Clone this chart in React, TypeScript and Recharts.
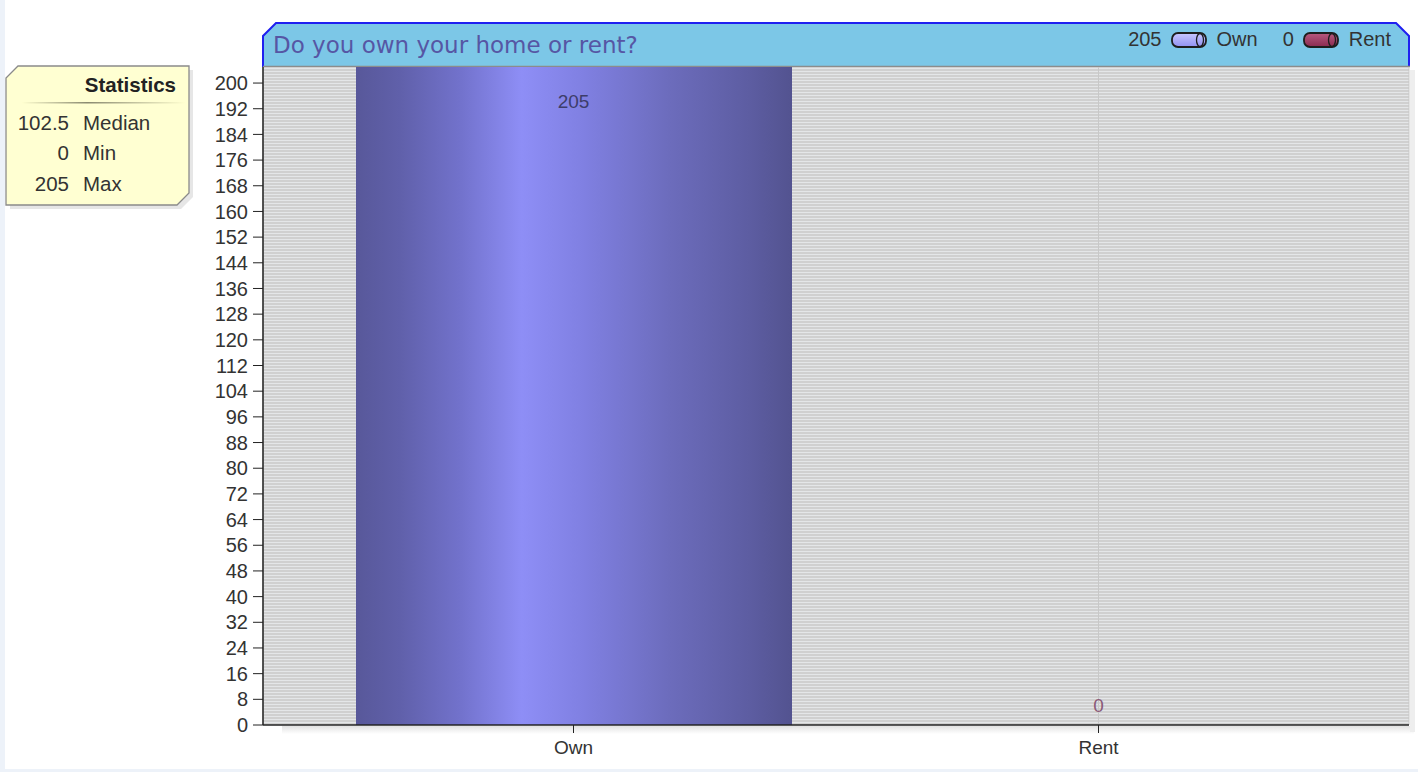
import { BarChart, Bar, XAxis, YAxis, CartesianGrid, Legend, Cell, ReferenceDot } from 'recharts'

// survey answers
const categories = ['Own', 'Rent']
const answerCounts = [205, 0]
const yTicks = [0, 8, 16, 24, 32, 40, 48, 56, 64, 72, 80, 88, 96, 104, 112, 120, 128, 136, 144, 152, 160, 168, 176, 184, 192, 200]
const barFills = ['url(#ownGrad)', 'url(#rentGrad)']
const legendFills = ['url(#ownPill)', 'url(#rentPill)']
const labelColors = ['#3d3d6a', '#8a5a78']

const data = categories.map((name, i) => ({ name, value: answerCounts[i] }))

const sorted = [...answerCounts].sort((a, b) => a - b)
const mid = Math.floor(sorted.length / 2)
const median = sorted.length % 2 ? sorted[mid] : (sorted[mid - 1] + sorted[mid]) / 2
const stats = [
  { label: 'Median', value: median },
  { label: 'Min', value: sorted[0] },
  { label: 'Max', value: sorted[sorted.length - 1] }
]

const FONT = '"Liberation Sans", Arial, sans-serif'

// value label sits inside the top of tall bars, just above the axis for empty ones
const makeValueLabel = (value: number, index: number) => (props: any) => {
  const vb = props.viewBox || {}
  const cx = vb.x + (vb.width || 0) / 2
  const top = vb.y + (vb.height || 0) / 2
  const cy = value > 20 ? top + 34 : top - 20
  return (
    <text
      x={cx}
      y={cy}
      textAnchor="middle"
      dominantBaseline="central"
      fill={labelColors[index]}
      fontSize={19}
      fontFamily={FONT}
    >
      {value}
    </text>
  )
}

const Pill = ({ fill }: { fill: string }) => (
  <svg width={36} height={18} style={{ display: 'block' }}>
    <rect x={1} y={2} width={34} height={14} rx={6} fill={fill} stroke="#1e1e1e" strokeWidth={1.8} />
    <ellipse cx={29} cy={9} rx={3.5} ry={6.5} fill="none" stroke="#1e1e1e" strokeWidth={1.3} />
  </svg>
)

const renderLegend = () => (
  <div
    style={{
      display: 'flex',
      alignItems: 'center',
      fontFamily: FONT,
      fontSize: 20,
      color: '#333'
    }}
  >
    {categories.map((c, i) => (
      <div key={c} style={{ display: 'flex', alignItems: 'center', marginLeft: i === 0 ? 0 : 25 }}>
        <span style={{ marginRight: 9 }}>{answerCounts[i]}</span>
        <Pill fill={legendFills[i]} />
        <span style={{ marginLeft: 10 }}>{c}</span>
      </div>
    ))}
  </div>
)

const TitleBar = () => (
  <svg width={1418} height={772} style={{ position: 'absolute', left: 0, top: 0, zIndex: 0 }}>
    <defs>
      <linearGradient id="axisShadow" x1="0" y1="0" x2="0" y2="1">
        <stop offset="0%" stopColor="#e2e2e2" />
        <stop offset="100%" stopColor="#ffffff" />
      </linearGradient>
    </defs>
    <rect x={282} y={726} width={1132} height={8} fill="url(#axisShadow)" />
    <rect x={1410} y={70} width={5} height={662} fill="#eeeeee" />
    <polygon points="263,67 263,36 276,23 1396,23 1409,36 1409,67" fill="#7cc7e7" />
    <polyline points="263,67 263,36 276,23 1396,23 1409,36 1409,67" fill="none" stroke="#2020f0" strokeWidth={2} />
    <line x1={263} y1={66.5} x2={1410} y2={66.5} stroke="#8c8c8c" strokeWidth={1.5} />
    <text x={273} y={45} dominantBaseline="central" fontSize={23} fontFamily='"DejaVu Sans", Verdana, sans-serif' fill="#5656a4">
      Do you own your home or rent?
    </text>
  </svg>
)

const StatsBox = () => (
  <svg width={200} height={220} style={{ position: 'absolute', left: 0, top: 0, zIndex: 2 }}>
    <defs>
      <linearGradient id="sepGrad" x1="0" y1="0" x2="1" y2="0">
        <stop offset="0%" stopColor="#ffffd0" />
        <stop offset="40%" stopColor="#8a8a70" />
        <stop offset="100%" stopColor="#ffffd0" />
      </linearGradient>
    </defs>
    <polygon points="20,70 193,70 193,197 181,209 10,209 10,82" fill="#e6e6e6" />
    <polygon points="18,66 189,66 189,193 177,205 6,205 6,78" fill="#ffffd2" stroke="#8a8a8a" strokeWidth={1.3} />
    <text x={176} y={84} textAnchor="end" dominantBaseline="central" fontSize={20.5} fontWeight="bold" fontFamily={FONT} fill="#222">
      Statistics
    </text>
    <rect x={22} y={102} width={163} height={1.5} fill="url(#sepGrad)" />
    {stats.map((s, i) => (
      <g key={s.label} fontSize={20.5} fontFamily={FONT} fill="#333">
        <text x={69} y={122 + i * 30.5} textAnchor="end" dominantBaseline="central">{s.value}</text>
        <text x={83} y={122 + i * 30.5} dominantBaseline="central">{s.label}</text>
      </g>
    ))}
  </svg>
)

export default function App() {
  return (
    <div
      style={{
        position: 'absolute',
        left: 0,
        top: 0,
        width: 1418,
        height: 772,
        background: '#edf2f9',
        overflow: 'hidden'
      }}
    >
      <div style={{ position: 'absolute', left: 5, top: 0, width: 1413, height: 769, background: '#fff' }} />
      <TitleBar />
      <div style={{ position: 'absolute', left: 0, top: 0, zIndex: 1 }}>
        <BarChart
          width={1418}
          height={772}
          data={data}
          margin={{ top: 67, right: 9, bottom: 7, left: 203 }}
          barSize={436}
        >
          <defs>
            <pattern id="stripes" width={6} height={3} patternUnits="userSpaceOnUse">
              <rect width={6} height={3} fill="#d0d0d0" />
              <rect y={2} width={6} height={1} fill="#e4e6e8" />
            </pattern>
            <linearGradient id="ownGrad" x1="0" y1="0" x2="1" y2="0">
              <stop offset="0%" stopColor="#58589a" />
              <stop offset="10%" stopColor="#6060aa" />
              <stop offset="24%" stopColor="#7272cc" />
              <stop offset="38%" stopColor="#8e8ef6" />
              <stop offset="52%" stopColor="#8080e2" />
              <stop offset="72%" stopColor="#6c6cbc" />
              <stop offset="90%" stopColor="#5d5da2" />
              <stop offset="100%" stopColor="#535390" />
            </linearGradient>
            <linearGradient id="rentGrad" x1="0" y1="0" x2="1" y2="0">
              <stop offset="0%" stopColor="#7a2a4a" />
              <stop offset="40%" stopColor="#b05078" />
              <stop offset="100%" stopColor="#702444" />
            </linearGradient>
            <linearGradient id="ownPill" x1="0" y1="0" x2="0" y2="1">
              <stop offset="0%" stopColor="#c8c8ff" />
              <stop offset="100%" stopColor="#9090f0" />
            </linearGradient>
            <linearGradient id="rentPill" x1="0" y1="0" x2="0" y2="1">
              <stop offset="0%" stopColor="#b85a80" />
              <stop offset="100%" stopColor="#8a2a50" />
            </linearGradient>
          </defs>
          <CartesianGrid horizontal={false} vertical stroke="#c8c8c8" fill="url(#stripes)" />
          <XAxis
            dataKey="name"
            padding={{ left: 48, right: 48 }}
            stroke="#222"
            axisLine={{ stroke: '#222', strokeWidth: 1.5 }}
            tickSize={8}
            tickMargin={8}
            height={40}
            tick={{ fill: '#333', fontSize: 19, fontFamily: FONT }}
          />
          <YAxis
            type="number"
            domain={[0, 205]}
            ticks={yTicks}
            interval={0}
            allowDataOverflow
            width={60}
            stroke="#222"
            axisLine={{ stroke: '#222', strokeWidth: 1.5 }}
            tickSize={10}
            tickMargin={5}
            tick={{ fill: '#333', fontSize: 20, fontFamily: FONT }}
          />
          <YAxis
            yAxisId="frame"
            orientation="right"
            width={0}
            tick={false}
            tickLine={false}
            axisLine={{ stroke: '#8a8a8a', strokeWidth: 2 }}
          />
          <Legend
            layout="horizontal"
            verticalAlign="middle"
            align="center"
            content={renderLegend}
            wrapperStyle={{ top: 28, left: 'auto', right: 27, width: 'auto' }}
          />
          <Bar dataKey="value" isAnimationActive={false}>
            {data.map((d, i) => (
              <Cell key={d.name} fill={barFills[i]} />
            ))}
          </Bar>
          {data.map((d, i) => (
            <ReferenceDot
              key={d.name}
              x={d.name}
              y={d.value}
              r={0}
              fill="none"
              stroke="none"
              ifOverflow="visible"
              label={{ content: makeValueLabel(d.value, i) }}
            />
          ))}
        </BarChart>
      </div>
      <StatsBox />
    </div>
  )
}
